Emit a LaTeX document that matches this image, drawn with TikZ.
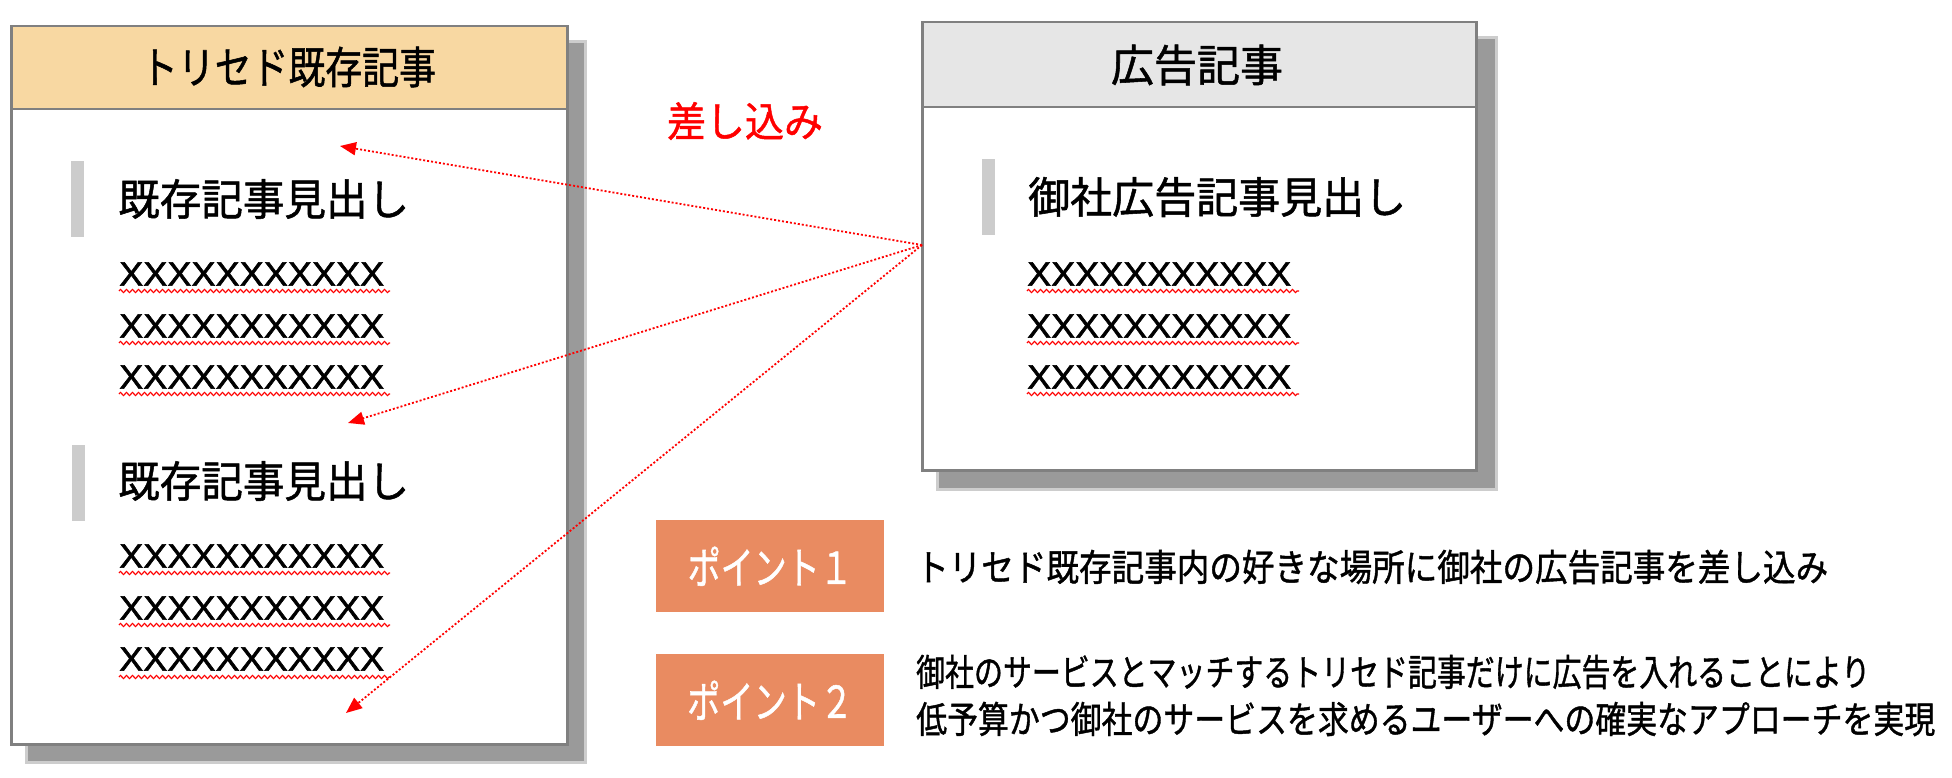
\documentclass[tikz,border=0pt]{standalone}
\usepackage{fontspec}
\usepackage{graphicx}
\setmainfont{Liberation Sans}
\newfontfamily\jp[FakeBold=1.2]{Noto Sans CJK JP}
\newfontfamily\lat[FakeBold=1.6]{Liberation Sans}
\usetikzlibrary{arrows.meta,decorations.pathmorphing}
\definecolor{hdrA}{HTML}{F8D8A2}
\definecolor{hdrB}{HTML}{E6E6E6}
\definecolor{framec}{HTML}{808080}
\definecolor{shadec}{HTML}{9A9A9A}
\definecolor{barc}{HTML}{CCCCCC}
\definecolor{ptc}{HTML}{E98B61}
\newcommand{\fsz}[1]{\fontsize{#1pt}{#1pt}\selectfont}
\newcommand{\fitw}[2]{\resizebox{#1pt}{\height}{#2}}
\tikzset{
  card/.style={draw=framec, line width=2.5pt, fill=white, inner sep=0pt, anchor=north west},
  hdr/.style={draw=framec, line width=2.5pt, inner sep=0pt, anchor=north west},
  shd/.style={fill=shadec},
  bar/.style={fill=barc, draw=none, inner sep=0pt, minimum width=13pt, anchor=north west},
  txt/.style={inner sep=0pt, anchor=west, text=black},
  ctxt/.style={inner sep=0pt, anchor=center, text=black},
  wavy/.style={draw=red, line width=1.1pt, decorate, decoration={zigzag, segment length=6pt, amplitude=1.6pt}},
  ptbox/.style={fill=ptc, draw=none, inner sep=0pt, minimum width=228pt, minimum height=92pt, anchor=north west},
  insarrow/.style={draw=red, line width=1.8pt, dash pattern=on 2pt off 2pt, -{Triangle[length=16pt,width=13pt]}},
}
\begin{document}
\begin{tikzpicture}[x=1pt,y=-1pt]
\useasboundingbox (0,0) rectangle (1952,778);
\fill[white] (0,0) rectangle (1952,778);

% ---------- left card ----------
\fill[shadec!50] (25,40) rectangle (587,764);
\fill[shd] (28,43) rectangle (584,761);
\node[card, minimum width=556pt, minimum height=718pt] (L) at (10,25) {};
\node[hdr, fill=hdrA, minimum width=556pt, minimum height=83pt] (Lh) at (10,25) {};
\node[ctxt] (Lt) at (288.5,67) {\fitw{295}{\jp\fsz{44}トリセド既存記事}};

\node[bar, minimum height=76pt] (Lb1) at (71,161) {};
\node[txt] (Ls1) at (118,199) {\fitw{291}{\jp\fsz{43}既存記事見出し}};
\node[txt] (Lx1) at (119,274) {\fitw{265}{\lat\fsz{34}XXXXXXXXXXX}};
\node[txt] (Lx2) at (119,326) {\fitw{265}{\lat\fsz{34}XXXXXXXXXXX}};
\node[txt] (Lx3) at (119,377) {\fitw{265}{\lat\fsz{34}XXXXXXXXXXX}};
\draw[wavy] (119,291) -- (390,291);
\draw[wavy] (119,343) -- (390,343);
\draw[wavy] (119,394) -- (390,394);

\node[bar, minimum height=76pt] (Lb2) at (72,445) {};
\node[txt] (Ls2) at (118,481) {\fitw{291}{\jp\fsz{43}既存記事見出し}};
\node[txt] (Lx4) at (119,556) {\fitw{265}{\lat\fsz{34}XXXXXXXXXXX}};
\node[txt] (Lx5) at (119,608) {\fitw{265}{\lat\fsz{34}XXXXXXXXXXX}};
\node[txt] (Lx6) at (119,659) {\fitw{265}{\lat\fsz{34}XXXXXXXXXXX}};
\draw[wavy] (119,573) -- (390,573);
\draw[wavy] (119,625) -- (390,625);
\draw[wavy] (119,677) -- (390,677);

% ---------- right card ----------
\fill[shadec!50] (936,36) rectangle (1498,491);
\fill[shd] (939,39) rectangle (1495,488);
\node[card, minimum width=554pt, minimum height=448pt] (R) at (921,21) {};
\node[hdr, fill=hdrB, minimum width=554pt, minimum height=85pt] (Rh) at (921,21) {};
\node[ctxt] (Rt) at (1197,65) {\fitw{172}{\jp\fsz{44}広告記事}};

\node[bar, minimum height=76pt] (Rb1) at (982,159) {};
\node[txt] (Rs1) at (1028,197) {\fitw{378}{\jp\fsz{43}御社広告記事見出し}};
\node[txt] (Rx1) at (1027,274) {\fitw{264}{\lat\fsz{34}XXXXXXXXXXX}};
\node[txt] (Rx2) at (1027,326) {\fitw{264}{\lat\fsz{34}XXXXXXXXXXX}};
\node[txt] (Rx3) at (1027,377) {\fitw{264}{\lat\fsz{34}XXXXXXXXXXX}};
\draw[wavy] (1027,291) -- (1299,291);
\draw[wavy] (1027,343) -- (1299,343);
\draw[wavy] (1027,394) -- (1299,394);

% ---------- insertion label & arrows ----------
\node[ctxt, text=red] (ins) at (745,121) {\fitw{156}{\jp\fsz{41}差し込み}};
\coordinate (src) at (922,245);
\coordinate (t1) at (340,146);
\coordinate (t2) at (348,423);
\coordinate (t3) at (346,713);
\draw[insarrow] (src) -- (t1);
\draw[insarrow] (src) -- (t2);
\draw[insarrow] (src) -- (t3);

% ---------- points ----------
\node[ptbox] (P1) at (656,520) {};
\node[ctxt, text=white] (P1t) at (P1.center) {\fitw{165}{\jp\fsz{44}ポイント１}};
\node[ptbox] (P2) at (656,654) {};
\node[ctxt, text=white] (P2t) at (P2.center) {\fitw{166}{\jp\fsz{44}ポイント２}};

\node[txt] (D1) at (916,567) {\fitw{912}{\jp\fsz{37}トリセド既存記事内の好きな場所に御社の広告記事を差し込み}};
\node[txt] (D2) at (916,672) {\fitw{954}{\jp\fsz{37}御社のサービスとマッチするトリセド記事だけに広告を入れることにより}};
\node[txt] (D3) at (916,719) {\fitw{1019}{\jp\fsz{37}低予算かつ御社のサービスを求めるユーザーへの確実なアプローチを実現}};
\end{tikzpicture}
\end{document}
